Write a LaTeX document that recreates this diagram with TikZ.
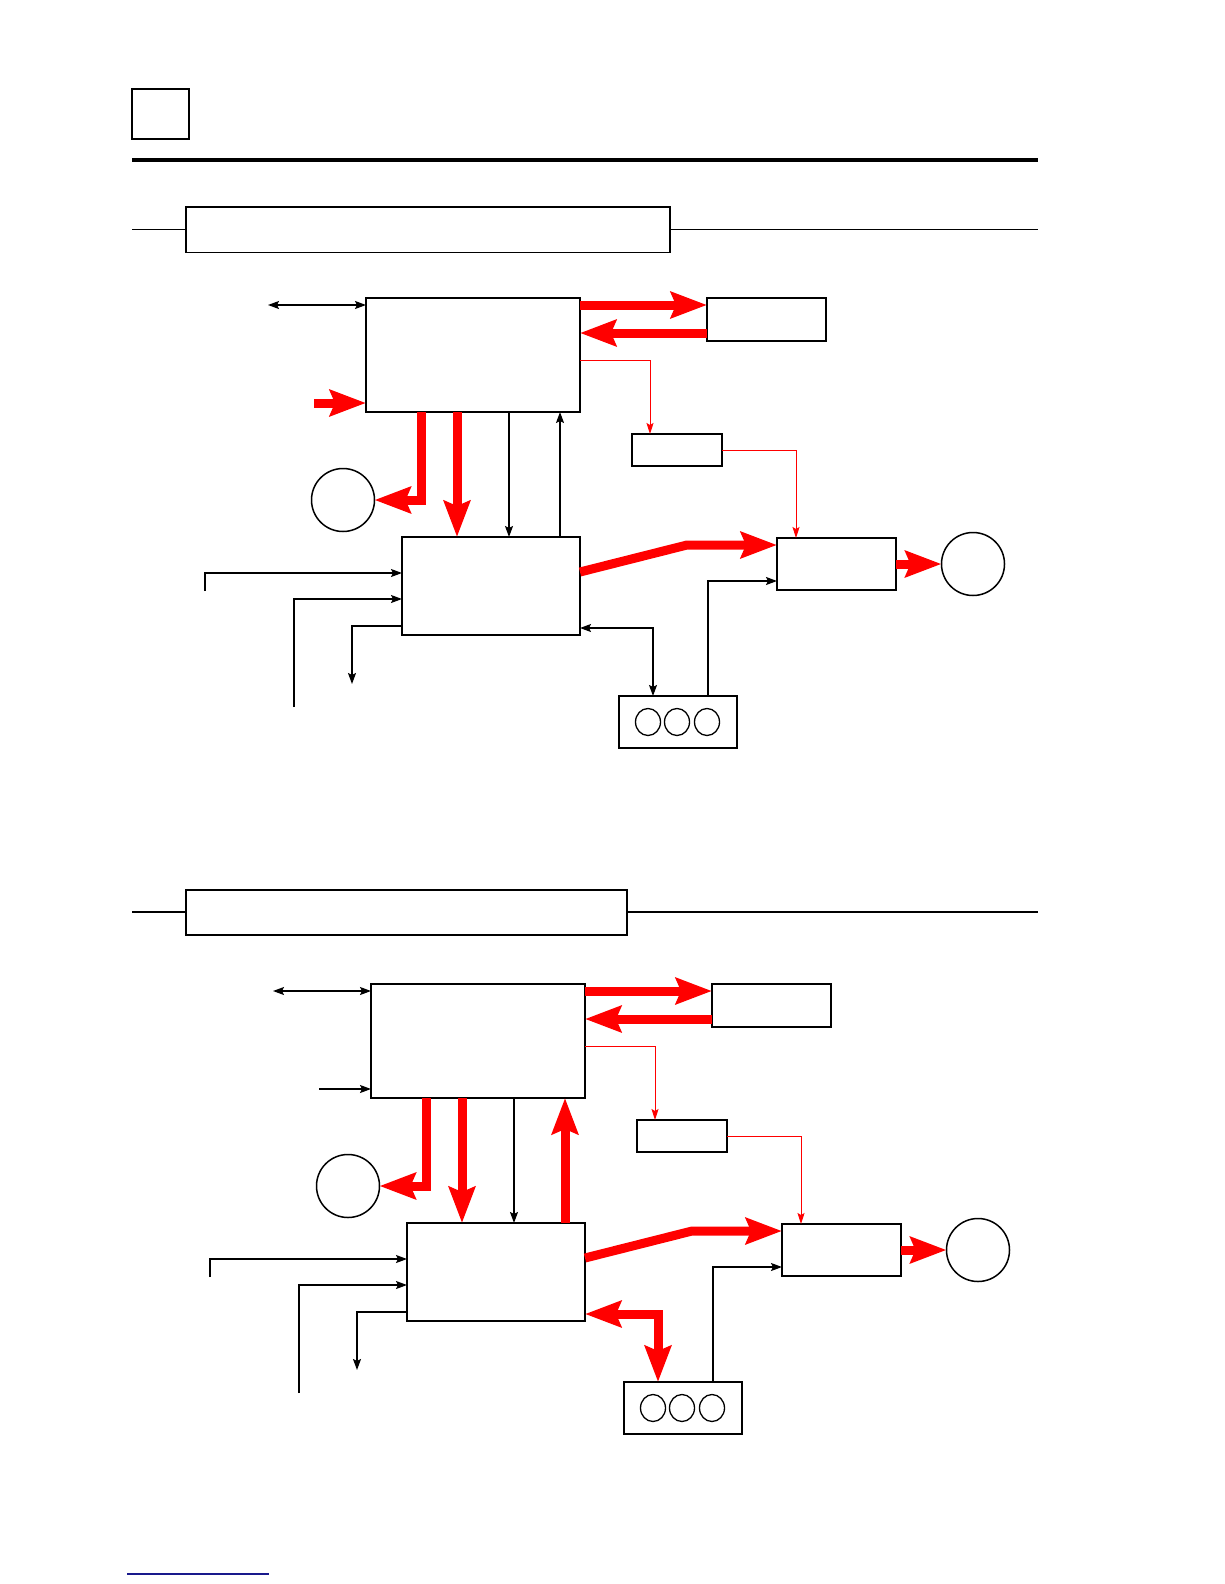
\documentclass[tikz,border=0pt]{standalone}
\usetikzlibrary{arrows.meta}
\definecolor{navyline}{RGB}{25,25,140}
\begin{document}
\begin{tikzpicture}[x=1pt,y=-1pt,
  box/.style={draw,line width=1.5pt,inner sep=0pt,outer sep=0pt,anchor=north west,rectangle},
  ring/.style={draw,line width=1.5pt,circle,inner sep=0pt,outer sep=0pt,minimum size=63pt},
  blk/.style={line width=1.3pt,>={Stealth[length=11pt,width=8pt,inset=2pt]}},
  tred/.style={red,line width=1pt,>={Stealth[length=11pt,width=7pt,inset=2pt]}},
  bigred/.style={red,line width=9pt,line join=miter,>={Stealth[length=36pt,width=26pt,inset=5pt]}},
  hdr/.style={line width=1.8pt}]
\useasboundingbox[fill=white] (0,0) rectangle (1224,1584);

% page header
\draw[line width=1.5pt] (132,89) rectangle (189,139);
\draw[line width=4pt] (132,160) -- (1038,160);

% section header 1
\draw[hdr] (132,229.5) -- (186,229.5);
\draw[hdr] (670,229.5) -- (1038,229.5);
\draw[hdr] (186,207) rectangle (670,252.5);

% section header 2
\draw[hdr] (132,912) -- (186,912);
\draw[hdr] (627,912) -- (1038,912);
\draw[hdr] (186,890) rectangle (627,935);

% ---------------- diagram 1 ----------------
\node[box,minimum width=214pt,minimum height=114pt] (A1) at (366,298) {};
\node[box,minimum width=119pt,minimum height=43pt] (B1) at (707,298) {};
\node[box,minimum width=90pt,minimum height=32pt] (C1) at (632,434) {};
\node[box,minimum width=119pt,minimum height=52pt] (D1) at (777,538) {};
\node[box,minimum width=178pt,minimum height=98pt] (F1) at (402,537) {};
\node[box,minimum width=118pt,minimum height=52pt] (H1) at (619,696) {};
\node[ring] (E1) at (343,500) {};
\node[ring] (G1) at (973,564) {};
\foreach \cx in {648,677,707} \draw[line width=1.3pt] (\cx,722) ellipse [x radius=12.5, y radius=13.5];

\coordinate (p1) at (268,305);
\draw[blk,<->] (p1) -- (p1 -| A1.west);
\coordinate (q1) at (314,403);
\draw[bigred,->] (q1) -- (q1 -| A1.west);
\draw[bigred,->] ([yshift=-7pt]A1.north east) -- ([yshift=-7pt]B1.north west);
\draw[bigred,->] ([yshift=-35pt]B1.north west) -- ([yshift=-35pt]A1.north east);
\draw[tred,->] ([yshift=-62pt]A1.north east) -| ([xshift=18pt]C1.north west);
\draw[tred,->] (C1.east) -| ([xshift=19pt]D1.north west);
\draw[bigred,->] ([xshift=55pt]A1.south west) |- (E1.east);
\coordinate (a11) at ([xshift=91pt]A1.south west);
\coordinate (a12) at ([xshift=143pt]A1.south west);
\coordinate (a13) at ([xshift=194pt]A1.south west);
\draw[bigred,->] (a11) -- (a11 |- F1.north);
\draw[blk,->] (a12) -- (a12 |- F1.north);
\draw[blk,->] (a13 |- F1.north) -- (a13);
\coordinate (k1) at ([shift={(-90,7)}]D1.north west);
\draw[bigred,->] ([yshift=-35pt]F1.north east) -- (k1) -- ([yshift=-7pt]D1.north west);
\draw[bigred,->] (D1.east) -- (G1.west);
\coordinate (s11) at (205,591);
\coordinate (s12) at (294,707);
\coordinate (o1) at (352,684);
\draw[blk,->] (s11) |- ([yshift=-36pt]F1.north west);
\draw[blk,->] (s12) |- ([yshift=-62pt]F1.north west);
\draw[blk,->] ([yshift=-89pt]F1.north west) -| (o1);
\draw[blk,<->] ([yshift=-91pt]F1.north east) -| ([xshift=34pt]H1.north west);
\draw[blk,->] ([xshift=89pt]H1.north west) |- ([yshift=-43pt]D1.north west);

% ---------------- diagram 2 ----------------
\begin{scope}[shift={(5,686)}]
\node[box,minimum width=214pt,minimum height=114pt] (A2) at (366,298) {};
\node[box,minimum width=119pt,minimum height=43pt] (B2) at (707,298) {};
\node[box,minimum width=90pt,minimum height=32pt] (C2) at (632,434) {};
\node[box,minimum width=119pt,minimum height=52pt] (D2) at (777,538) {};
\node[box,minimum width=178pt,minimum height=98pt] (F2) at (402,537) {};
\node[box,minimum width=118pt,minimum height=52pt] (H2) at (619,696) {};
\node[ring] (E2) at (343,500) {};
\node[ring] (G2) at (973,564) {};
\foreach \cx in {648,677,707} \draw[line width=1.3pt] (\cx,722) ellipse [x radius=12.5, y radius=13.5];

\coordinate (p2) at (268,305);
\draw[blk,<->] (p2) -- (p2 -| A2.west);
\coordinate (q2) at (314,403);
\draw[blk,->] (q2) -- (q2 -| A2.west);
\draw[bigred,->] ([yshift=-7pt]A2.north east) -- ([yshift=-7pt]B2.north west);
\draw[bigred,->] ([yshift=-35pt]B2.north west) -- ([yshift=-35pt]A2.north east);
\draw[tred,->] ([yshift=-62pt]A2.north east) -| ([xshift=18pt]C2.north west);
\draw[tred,->] (C2.east) -| ([xshift=19pt]D2.north west);
\draw[bigred,->] ([xshift=55pt]A2.south west) |- (E2.east);
\coordinate (a21) at ([xshift=91pt]A2.south west);
\coordinate (a22) at ([xshift=143pt]A2.south west);
\coordinate (a23) at ([xshift=194pt]A2.south west);
\draw[bigred,->] (a21) -- (a21 |- F2.north);
\draw[blk,->] (a22) -- (a22 |- F2.north);
\draw[bigred,->] (a23 |- F2.north) -- (a23);
\coordinate (k2) at ([shift={(-90,7)}]D2.north west);
\draw[bigred,->] ([yshift=-35pt]F2.north east) -- (k2) -- ([yshift=-7pt]D2.north west);
\draw[bigred,->] (D2.east) -- (G2.west);
\coordinate (s21) at (205,591);
\coordinate (s22) at (294,707);
\coordinate (o2) at (352,684);
\draw[blk,->] (s21) |- ([yshift=-36pt]F2.north west);
\draw[blk,->] (s22) |- ([yshift=-62pt]F2.north west);
\draw[blk,->] ([yshift=-89pt]F2.north west) -| (o2);
\draw[bigred,<->] ([yshift=-91pt]F2.north east) -| ([xshift=34pt]H2.north west);
\draw[blk,->] ([xshift=89pt]H2.north west) |- ([yshift=-43pt]D2.north west);
\end{scope}

% footer line
\draw[navyline,line width=1.5pt] (127,1574) -- (269,1574);
\end{tikzpicture}
\end{document}
